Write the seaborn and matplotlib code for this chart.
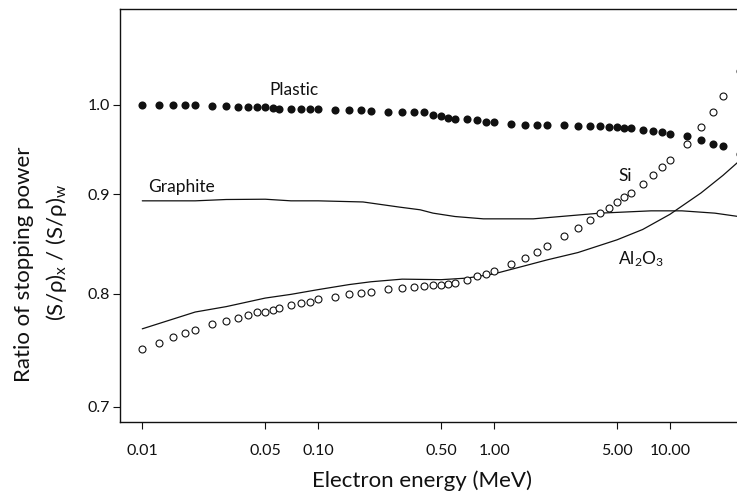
import matplotlib
matplotlib.use("Agg")
import matplotlib.pyplot as plt
import numpy as np
import pandas as pd
import seaborn as sns
from matplotlib.ticker import FixedLocator, FixedFormatter, NullLocator

# Electron energies (MeV) of the tabulated points
energy = [0.01, 0.0125, 0.015, 0.0175, 0.02, 0.025, 0.03, 0.035, 0.04, 0.045,
          0.05, 0.055, 0.06, 0.07, 0.08, 0.09,
          0.1, 0.125, 0.15, 0.175, 0.2, 0.25, 0.3, 0.35, 0.4, 0.45,
          0.5, 0.55, 0.6, 0.7, 0.8, 0.9,
          1.0, 1.25, 1.5, 1.75, 2.0, 2.5, 3.0, 3.5, 4.0, 4.5,
          5.0, 5.5, 6.0, 7.0, 8.0, 9.0,
          10.0, 12.5, 15.0, 17.5, 20.0, 25.0]

plastic = [1.000, 1.000, 1.000, 1.000, 1.000, 0.999, 0.999, 0.998, 0.9976, 0.9976,
           0.9976, 0.9968, 0.9956, 0.9956, 0.9953, 0.9953,
           0.9953, 0.9945, 0.9945, 0.9941, 0.9933, 0.9921, 0.9917, 0.9920, 0.9913, 0.9886,
           0.9866, 0.9851, 0.9839, 0.9839, 0.9819, 0.9796,
           0.9796, 0.9781, 0.9769, 0.9769, 0.9769, 0.9761, 0.9754, 0.9754, 0.9754, 0.9743,
           0.9743, 0.9735, 0.9727, 0.9712, 0.9700, 0.9681,
           0.9666, 0.9635, 0.9590, 0.9552, 0.9522, 0.9440]

silicon = [0.7491, 0.7547, 0.7598, 0.7634, 0.7667, 0.7716, 0.7749, 0.7777, 0.7805, 0.7827,
           0.7832, 0.7851, 0.7867, 0.7898, 0.7917, 0.7926,
           0.7949, 0.7968, 0.8000, 0.8006, 0.8019, 0.8047, 0.8059, 0.8069, 0.8079, 0.8085,
           0.8088, 0.8098, 0.8107, 0.8133, 0.8169, 0.8191,
           0.8217, 0.8288, 0.8347, 0.8407, 0.8467, 0.8568, 0.8648, 0.8730, 0.8806, 0.8858,
           0.8918, 0.8969, 0.9017, 0.9112, 0.9201, 0.9289,
           0.9370, 0.9552, 0.9739, 0.9913, 1.0102, 1.0406]

graphite_energy = [0.01, 0.02, 0.03, 0.05, 0.07, 0.1, 0.18, 0.29, 0.38, 0.45,
                   0.6, 0.87, 1.67, 4.0, 7.8, 11.7, 18.0, 25.0]
graphite = [0.8929, 0.8929, 0.8943, 0.8946, 0.8929, 0.8929, 0.8917, 0.8863, 0.8835, 0.8800,
            0.8765, 0.8741, 0.8741, 0.8800, 0.8824, 0.8824, 0.8800, 0.8763]

alumina_energy = [0.01, 0.02, 0.03, 0.05, 0.07, 0.1, 0.15, 0.2, 0.3, 0.5,
                  0.7, 1.0, 1.5, 2.0, 3.0, 5.0, 7.0, 10.0, 15.0, 20.0, 25.0]
alumina = [0.7676, 0.7830, 0.7880, 0.7960, 0.7995, 0.8040, 0.8088, 0.8115, 0.8140, 0.8135,
           0.8150, 0.8191, 0.8270, 0.8327, 0.8400, 0.8527, 0.8632, 0.8788, 0.9012, 0.9201, 0.9366]

x_ticks = [0.01, 0.05, 0.10, 0.50, 1.00, 5.00, 10.00]
x_tick_labels = ["0.01", "0.05", "0.10", "0.50", "1.00", "5.00", "10.00"]
y_ticks = [0.7, 0.8, 0.9, 1.0]
y_tick_labels = ["0.7", "0.8", "0.9", "1.0"]

points = pd.DataFrame({"energy": energy, "Plastic": plastic, "Si": silicon})
graphite_df = pd.DataFrame({"energy": graphite_energy, "ratio": graphite})
alumina_df = pd.DataFrame({"energy": alumina_energy, "ratio": alumina})

sns.set_theme(style="white")
plt.rcParams["font.family"] = ["Lato", "DejaVu Sans"]
plt.rcParams["mathtext.fontset"] = "custom"
plt.rcParams["mathtext.rm"] = "Lato"
plt.rcParams["mathtext.it"] = "Lato"

ink = "#111111"
W, H = 737, 497
fig = plt.figure(figsize=(W / 100, H / 100), dpi=100)
ax = fig.add_axes([120 / W, 1 - 422 / H, 1 - 120 / W, (422 - 9) / H])

ax.set_xscale("log")
ax.set_yscale("log")

sns.lineplot(data=graphite_df, x="energy", y="ratio", ax=ax, color=ink,
             linewidth=0.9, estimator=None, sort=True)
sns.lineplot(data=alumina_df, x="energy", y="ratio", ax=ax, color=ink,
             linewidth=0.9, estimator=None, sort=True)
sns.scatterplot(data=points, x="energy", y="Plastic", ax=ax, color=ink,
                s=34, linewidth=0, marker="o")
sns.scatterplot(data=points, x="energy", y="Si", ax=ax, facecolor="white",
                edgecolor=ink, s=25, linewidth=0.8, marker="o", zorder=3)

ax.set_xlim(0.00747, 24.05)
ax.set_ylim(0.6876, 1.12)

ax.xaxis.set_major_locator(FixedLocator(x_ticks))
ax.xaxis.set_major_formatter(FixedFormatter(x_tick_labels))
ax.xaxis.set_minor_locator(NullLocator())
ax.yaxis.set_major_locator(FixedLocator(y_ticks))
ax.yaxis.set_major_formatter(FixedFormatter(y_tick_labels))
ax.yaxis.set_minor_locator(NullLocator())

ax.tick_params(axis="both", which="major", direction="out", length=5, width=0.8,
               color=ink, labelcolor=ink, labelsize=11.5, bottom=True, left=True)
ax.tick_params(axis="x", pad=11)
ax.tick_params(axis="y", pad=2)

for side in ["left", "bottom", "top"]:
    ax.spines[side].set_color(ink)
    ax.spines[side].set_linewidth(1.0)
ax.spines["right"].set_visible(False)

ax.set_xlabel("")
ax.set_ylabel("")
fig.text(422 / W, 1 - 481 / H, "Electron energy (MeV)", ha="center", va="center",
         fontsize=16, color=ink)
fig.text(24 / W, 1 - 264 / H, "Ratio of stopping power", rotation=90,
         ha="center", va="center", fontsize=16, color=ink)
fig.text(57 / W, 1 - 252 / H,
         r"(S/ρ)$_\mathregular{x}$ / (S/ρ)$_\mathregular{w}$", rotation=90,
         ha="center", va="center", fontsize=16, color=ink)

label_kw = dict(ha="left", va="baseline", fontsize=12.5, color=ink)
ax.text(0.0525, 1.0123, "Plastic", **label_kw)
ax.text(0.01077, 0.9025, "Graphite", **label_kw)
ax.text(5.06, 0.9146, "Si", **label_kw)
ax.text(5.04, 0.8288, r"Al$_\mathregular{2}$O$_\mathregular{3}$", **label_kw)

fig.savefig("out.png", dpi=100)
